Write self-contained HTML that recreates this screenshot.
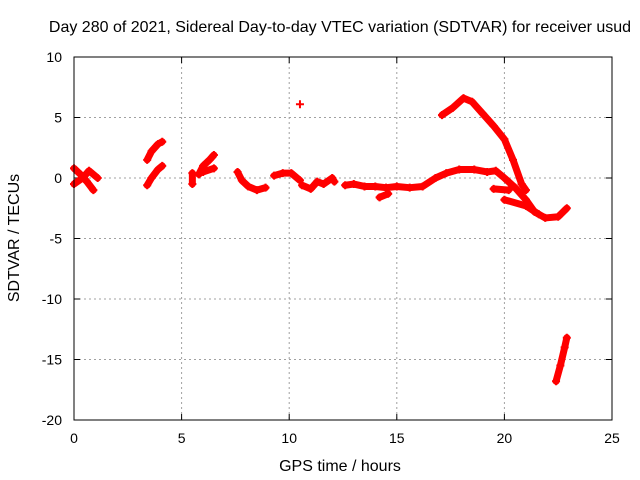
<!DOCTYPE html>
<html><head><meta charset="utf-8"><style>
body{margin:0;background:#fff}
svg{display:block;font-family:"Liberation Sans",sans-serif;font-size:14px}
</style></head><body>
<svg id="chart" width="640" height="480" viewBox="0 0 640 480">
<text x="340" y="32" text-anchor="middle" font-size="16">Day 280 of 2021, Sidereal Day-to-day VTEC variation (SDTVAR) for receiver usud</text>
<g id="grid"></g>
<g id="ticks"></g>
<g id="data"></g>
<rect x="74" y="57" width="538" height="363" fill="none" stroke="#000" stroke-width="1"/>
<text x="340" y="471" text-anchor="middle" font-size="16">GPS time / hours</text>
<text transform="translate(19,238) rotate(-90)" text-anchor="middle" font-size="16">SDTVAR / TECUs</text>
</svg>
<script>
const xTicks=[0,5,10,15,20,25];
const yTicks=[10,5,0,-5,-10,-15,-20];
const track1=[[0,0.8],[0.3,0.3],[0.6,-0.3],[0.9,-1.0]];
const track2=[[0,-0.5],[0.4,0],[0.7,0.6],[1.1,0]];
const track3=[[3.4,1.5],[3.6,2.2],[3.9,2.8],[4.1,3.0]];
const track4=[[3.4,-0.6],[3.6,0],[3.9,0.7],[4.1,1.0]];
const track5=[[5.5,-0.5],[5.5,0.4]];
const track6=[[5.8,0.3],[6.0,1.0],[6.3,1.5],[6.5,1.9]];
const track7=[[6.0,0.5],[6.5,0.8]];
const track8=[[7.6,0.5],[7.8,-0.2],[8.1,-0.7],[8.5,-1.0],[8.9,-0.8]];
const track9=[[9.3,0.2],[9.7,0.4],[10.1,0.4],[10.5,-0.2]];
const track10=[[10.5,6.1]];
const track11=[[10.6,-0.6],[11,-0.9],[11.3,-0.3],[11.6,-0.5],[12,0],[12.1,-0.3]];
const track12=[[12.6,-0.6],[13,-0.5],[13.5,-0.7],[14,-0.7],[14.5,-0.8],[15,-0.7],[15.6,-0.8],[16.2,-0.7],[16.8,0],[17.3,0.4],[17.9,0.7],[18.6,0.7],[19.2,0.5],[19.6,0.6],[20,0],[20.5,-0.8],[21,-1.8],[21.4,-2.8],[21.9,-3.3],[22.5,-3.2],[22.9,-2.5]];
const track13=[[14.2,-1.6],[14.6,-1.3]];
const track14=[[17.1,5.2],[17.6,5.8],[18.1,6.6],[18.5,6.3],[19,5.3],[19.5,4.3],[20,3.2],[20.4,1.5],[20.8,-0.5],[21,-1.0]];
const track15=[[19.5,-0.9],[20.2,-1.0]];
const track16=[[20.0,-1.8],[21,-2.3],[21.6,-3.0]];
const track17=[[22.4,-16.8],[22.6,-15.5],[22.8,-14],[22.9,-13.2]];
const tracks=[track1,track2,track3,track4,track5,track6,track7,track8,track9,track10,track11,track12,track13,track14,track15,track16,track17];

const NS='http://www.w3.org/2000/svg';
const X=t=>74+t*(538/25);
const Y=v=>57+(10-v)*(363/30);
function mk(tag,a,p){const e=document.createElementNS(NS,tag);for(const k in a)e.setAttribute(k,a[k]);p.appendChild(e);return e;}
const grid=document.getElementById('grid'),ticks=document.getElementById('ticks'),data=document.getElementById('data');
xTicks.forEach(t=>{
  if(t>0&&t<25){const g=mk('line',{x1:X(t),x2:X(t),y1:57,y2:420,stroke:'#a0a0a0','stroke-dasharray':'2,3'},grid);
  
  }
  mk('line',{x1:X(t),x2:X(t),y1:420,y2:414,stroke:'#000'},ticks);
  mk('line',{x1:X(t),x2:X(t),y1:57,y2:63,stroke:'#000'},ticks);
  const l=mk('text',{x:X(t),y:443,'text-anchor':'middle'},ticks);l.textContent=t;
  
  
});
yTicks.forEach(v=>{
  if(v<10&&v>-20){const g=mk('line',{x1:74,x2:612,y1:Y(v),y2:Y(v),stroke:'#a0a0a0','stroke-dasharray':'2,3'},grid);
  
  }
  mk('line',{x1:74,x2:80,y1:Y(v),y2:Y(v),stroke:'#000'},ticks);
  mk('line',{x1:606,x2:612,y1:Y(v),y2:Y(v),stroke:'#000'},ticks);
  const l=mk('text',{x:62,y:Y(v)+5,'text-anchor':'end'},ticks);l.textContent=v;
  
  
});
tracks.forEach(tr=>{
  const p=mk('polyline',{points:tr.map(d=>X(d[0])+','+Y(d[1])).join(' '),fill:'none',stroke:'#f00','stroke-width':7,'stroke-linejoin':'round','stroke-linecap':'round'},data);
  
  
  tr.forEach(d=>{
    const m=mk('path',{d:`M${X(d[0])-4},${Y(d[1])}h8M${X(d[0])},${Y(d[1])-4}v8`,stroke:'#f00','stroke-width':2},data);
    
    
  });
});
</script>
</body></html>
